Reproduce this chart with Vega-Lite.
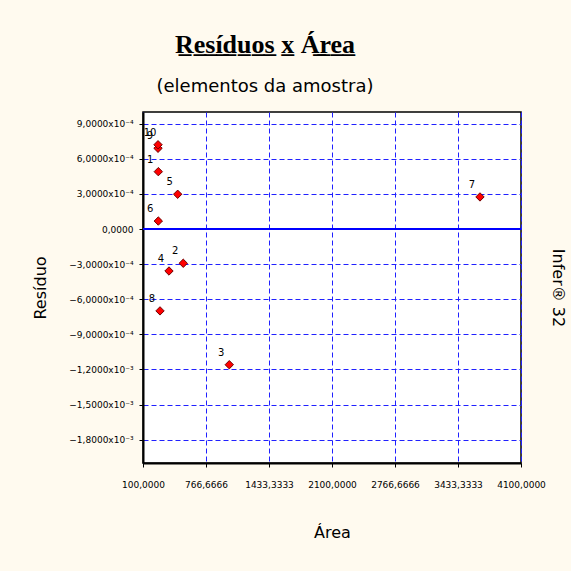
{
  "$schema": "https://vega.github.io/schema/vega-lite/v6.json",
  "width": 378,
  "height": 351,
  "autosize": {"type": "none"},
  "padding": {"left": 143, "top": 112, "right": 50, "bottom": 108},
  "background": "#FFFAEF",
  "config": {
    "view": {"fill": "white", "stroke": "black", "strokeWidth": 1.5},
    "font": "DejaVu Sans",
    "axis": {"gridColor": "#2020FF", "gridDash": [5, 3], "gridWidth": 1, "gridOpacity": 1}
  },
  "title": {
    "text": "R̲e̲s̲í̲d̲u̲o̲s̲ x̲ Á̲r̲e̲a̲",
    "subtitle": "(elementos da amostra)",
    "font": "Liberation Serif",
    "fontSize": 26,
    "fontWeight": "bold",
    "color": "black",
    "subtitleFont": "DejaVu Sans",
    "subtitleFontSize": 18,
    "subtitleColor": "black",
    "anchor": "middle",
    "frame": "group",
    "dx": -67,
    "offset": 16,
    "subtitlePadding": 20
  },
  "datasets": {
    "amostra": [
      {"elemento": "1", "area": 262, "residuo": 0.00049},
      {"elemento": "2", "area": 526, "residuo": -0.000293},
      {"elemento": "3", "area": 1013, "residuo": -0.00116},
      {"elemento": "4", "area": 375, "residuo": -0.000359},
      {"elemento": "5", "area": 467, "residuo": 0.000297},
      {"elemento": "6", "area": 262, "residuo": 0.000068},
      {"elemento": "7", "area": 3666, "residuo": 0.000274},
      {"elemento": "8", "area": 280, "residuo": -0.0007},
      {"elemento": "9", "area": 259, "residuo": 0.00069},
      {"elemento": "10", "area": 259, "residuo": 0.00072}
    ],
    "zero": [{"referencia": 0}]
  },
  "resolve": {"axis": {"y": "independent"}},
  "layer": [
    {
      "data": {"name": "amostra"},
      "mark": {"type": "point", "shape": "diamond", "filled": true, "fill": "#FF0000", "stroke": "#700000", "strokeWidth": 1, "size": 70, "opacity": 1},
      "encoding": {
        "x": {
          "field": "area", "type": "quantitative",
          "scale": {"domain": [100, 4100], "nice": false, "zero": false},
          "axis": {
            "title": "Área",
            "titleFont": "DejaVu Sans", "titleFontSize": 16, "titleFontWeight": "normal", "titleColor": "black",
            "titlePadding": 35,
            "values": [100, 433.3333, 766.6666, 1100, 1433.3333, 1766.6666, 2100, 2433.3333, 2766.6666, 3100, 3433.3333, 3766.6666, 4100],
            "labelExpr": "round((datum.value-100)/333.3333) % 2 == 0 ? replace(format(datum.value, '.4f'), '.', ',') : ''",
            "labelOverlap": false,
            "labelFlush": false,
            "labelFontSize": 9,
            "labelColor": "black",
            "labelPadding": 13,
            "tickSize": 4,
            "tickColor": "black",
            "tickOpacity": {"condition": {"test": "round((datum.value-100)/333.3333) % 2 == 0", "value": 1}, "value": 0},
            "domainColor": "black",
            "domainWidth": 2,
            "grid": true,
            "gridColor": "#2020FF",
            "gridDash": [5, 3],
            "gridWidth": 1
          }
        },
        "y": {
          "field": "residuo", "type": "quantitative",
          "scale": {"domain": [-0.002, 0.001], "nice": false, "zero": false},
          "axis": {
            "orient": "left",
            "title": "Resíduo",
            "titleFont": "DejaVu Sans", "titleFontSize": 16, "titleFontWeight": "normal", "titleColor": "black",
            "titlePadding": 20,
            "values": [-0.0018, -0.0015, -0.0012, -0.0009, -0.0006, -0.0003, 0, 0.0003, 0.0006, 0.0009],
            "labelExpr": "abs(datum.value) < 1e-9 ? '0,0000' : (abs(datum.value) < 0.00095 ? replace(format(datum.value*10000, '.4f'), '.', ',') + 'x10⁻⁴' : replace(format(datum.value*1000, '.4f'), '.', ',') + 'x10⁻³')",
            "labelOverlap": false,
            "labelFontSize": 9,
            "labelColor": "black",
            "labelPadding": 6,
            "tickSize": 4,
            "tickColor": "black",
            "domainColor": "black",
            "domainWidth": 2,
            "grid": true,
            "gridColor": "#2020FF",
            "gridDash": [5, 3],
            "gridWidth": 1
          }
        }
      }
    },
    {
      "data": {"name": "amostra"},
      "mark": {"type": "text", "fontSize": 10, "dx": -8, "dy": -12, "color": "black", "font": "DejaVu Sans"},
      "encoding": {
        "x": {"field": "area", "type": "quantitative"},
        "y": {"field": "residuo", "type": "quantitative", "axis": null},
        "text": {"field": "elemento"}
      }
    },
    {
      "data": {"name": "zero"},
      "mark": {"type": "rule", "color": "#0000FF", "strokeWidth": 2},
      "encoding": {
        "y": {
          "field": "referencia", "type": "quantitative",
          "axis": {
            "orient": "right",
            "title": "Infer® 32",
            "titleAngle": 90,
            "titleFont": "DejaVu Sans", "titleFontSize": 16, "titleFontWeight": "normal", "titleColor": "black",
            "titlePadding": 28,
            "labels": false, "ticks": false, "domain": false, "grid": false
          }
        }
      }
    }
  ]
}
